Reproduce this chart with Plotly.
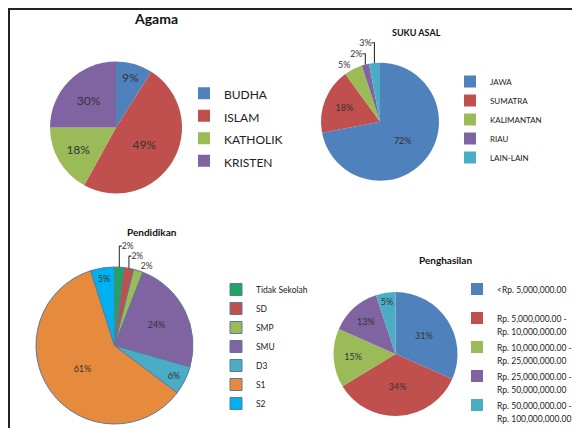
import plotly.graph_objects as go

# the page body keeps its 8px margin, so the figure is 8px smaller each way
# and all positions below are read straight off the reference picture
OFF = 8
W, H = 580 - OFF, 428 - OFF
FONT = "Lato"

# Agama
agama_labels = ["BUDHA", "ISLAM", "KATHOLIK", "KRISTEN"]
agama_values = [9, 49, 17, 25]
agama_text = ["9%", "49%", "18%", "30%"]

# Suku asal
suku_labels = ["JAWA", "SUMATRA", "KALIMANTAN", "RIAU", "LAIN-LAIN"]
suku_values = [72, 18, 5, 2, 3]

# Pendidikan
pend_labels = ["Tidak Sekolah", "SD", "SMP", "SMU", "D3", "S1", "S2"]
pend_values = [2, 2, 2, 24, 6, 61, 5]

# Penghasilan
gaji_labels = [
    ["&lt;Rp. 5,000,000.00", " "],
    ["Rp. 5,000,000.00 -", "Rp. 10,000,000.00"],
    ["Rp. 10,000,000.00 -", "Rp. 25,000,000.00"],
    ["Rp. 25,000,000.00 -", "Rp. 50,000,000.00"],
    ["Rp. 50,000,000.00 -", "Rp. 100,000,000.00"],
]
gaji_values = [31, 34, 15, 13, 5]

office = ["#4F81BD", "#C0504D", "#9BBB59", "#8064A2", "#4BACC6"]
pend_colors = ["#1FA463", "#C0504D", "#9BBB59", "#8064A2", "#4BACC6", "#E68A3E", "#00B0F0"]


def px(x):
    return (x - OFF) / W


def py(y):
    return 1 - (y - OFF) / H


def dom(cx, cy, r):
    return dict(x=[px(cx - r), px(cx + r)], y=[py(cy + r), py(cy - r)])


def small(text, size):
    return f'<span style="font-size:{size}px">{text}</span>'


fig = go.Figure()

fig.add_trace(go.Pie(
    labels=[small(l, 12) for l in agama_labels],
    values=agama_values, text=agama_text, textinfo="text",
    textposition="inside", insidetextorientation="horizontal",
    insidetextfont=dict(size=12, color="#333"),
    marker=dict(colors=office[:4]),
    sort=False, direction="clockwise", domain=dom(116, 127.5, 66),
    legend="legend",
))

fig.add_trace(go.Pie(
    labels=suku_labels, values=suku_values,
    text=[f"{v}%" for v in suku_values], textinfo="text",
    textposition=["inside", "inside", "outside", "outside", "outside"],
    insidetextorientation="horizontal",
    insidetextfont=dict(size=9, color="#333"), outsidetextfont=dict(size=9, color="#333"),
    marker=dict(colors=office),
    sort=False, direction="clockwise", domain=dom(380, 121.7, 59),
    legend="legend2",
))

fig.add_trace(go.Pie(
    labels=pend_labels, values=pend_values,
    text=[f"{v}%" for v in pend_values], textinfo="text",
    textposition=["outside", "outside", "outside", "inside", "inside", "inside", "inside"],
    insidetextorientation="horizontal",
    insidetextfont=dict(size=9, color="#333"), outsidetextfont=dict(size=8.5, color="#333"),
    marker=dict(colors=pend_colors, line=dict(color="#5B7A99", width=1)),
    sort=False, direction="clockwise", domain=dom(114.5, 345.5, 78.5),
    legend="legend3",
))

fig.add_trace(go.Pie(
    labels=["<br>".join(small(s, 8.5) for s in l) for l in gaji_labels],
    values=gaji_values,
    text=[f"{v}%" for v in gaji_values], textinfo="text",
    textposition="inside", insidetextorientation="horizontal",
    insidetextfont=dict(size=9, color="#333"),
    marker=dict(colors=office),
    sort=False, direction="clockwise", domain=dom(395.5, 354, 62),
    legend="legend4",
))

titles = [
    ("<b>Agama</b>", 156, 18, 14),
    ("<b>SUKU ASAL</b>", 416, 32, 9),
    ("<b>Pendidikan</b>", 152, 232, 10),
    ("<b>Penghasilan</b>", 445, 260, 10),
]
for text, x, y, size in titles:
    fig.add_annotation(text=text, x=px(x), y=py(y), xref="paper", yref="paper",
                       xanchor="center", yanchor="middle",
                       showarrow=False, font=dict(size=size, color="#111"))

# frame lines (top and left)
fig.add_shape(type="line", xref="paper", yref="paper", x0=px(7), x1=1, y0=py(9), y1=py(9),
              line=dict(color="#222", width=2))
fig.add_shape(type="line", xref="paper", yref="paper", x0=px(9), x1=px(9), y0=0, y1=py(8),
              line=dict(color="#222", width=2))

leg = dict(xanchor="left", yanchor="top", bgcolor="rgba(0,0,0,0)", itemclick=False)
fig.update_layout(
    width=W, height=H,
    margin=dict(l=0, r=0, t=0, b=0, autoexpand=False),
    paper_bgcolor="white",
    font=dict(family=FONT, color="#222"),
    legend=dict(x=px(184), y=py(77), font=dict(size=15), **leg),
    legend2=dict(x=px(450), y=py(67), font=dict(size=8), **leg),
    legend3=dict(x=px(216), y=py(275), font=dict(size=8.5), **leg),
    legend4=dict(x=px(457), y=py(276), font=dict(size=10), valign="top", **leg),
)

fig.write_html("out.html")
